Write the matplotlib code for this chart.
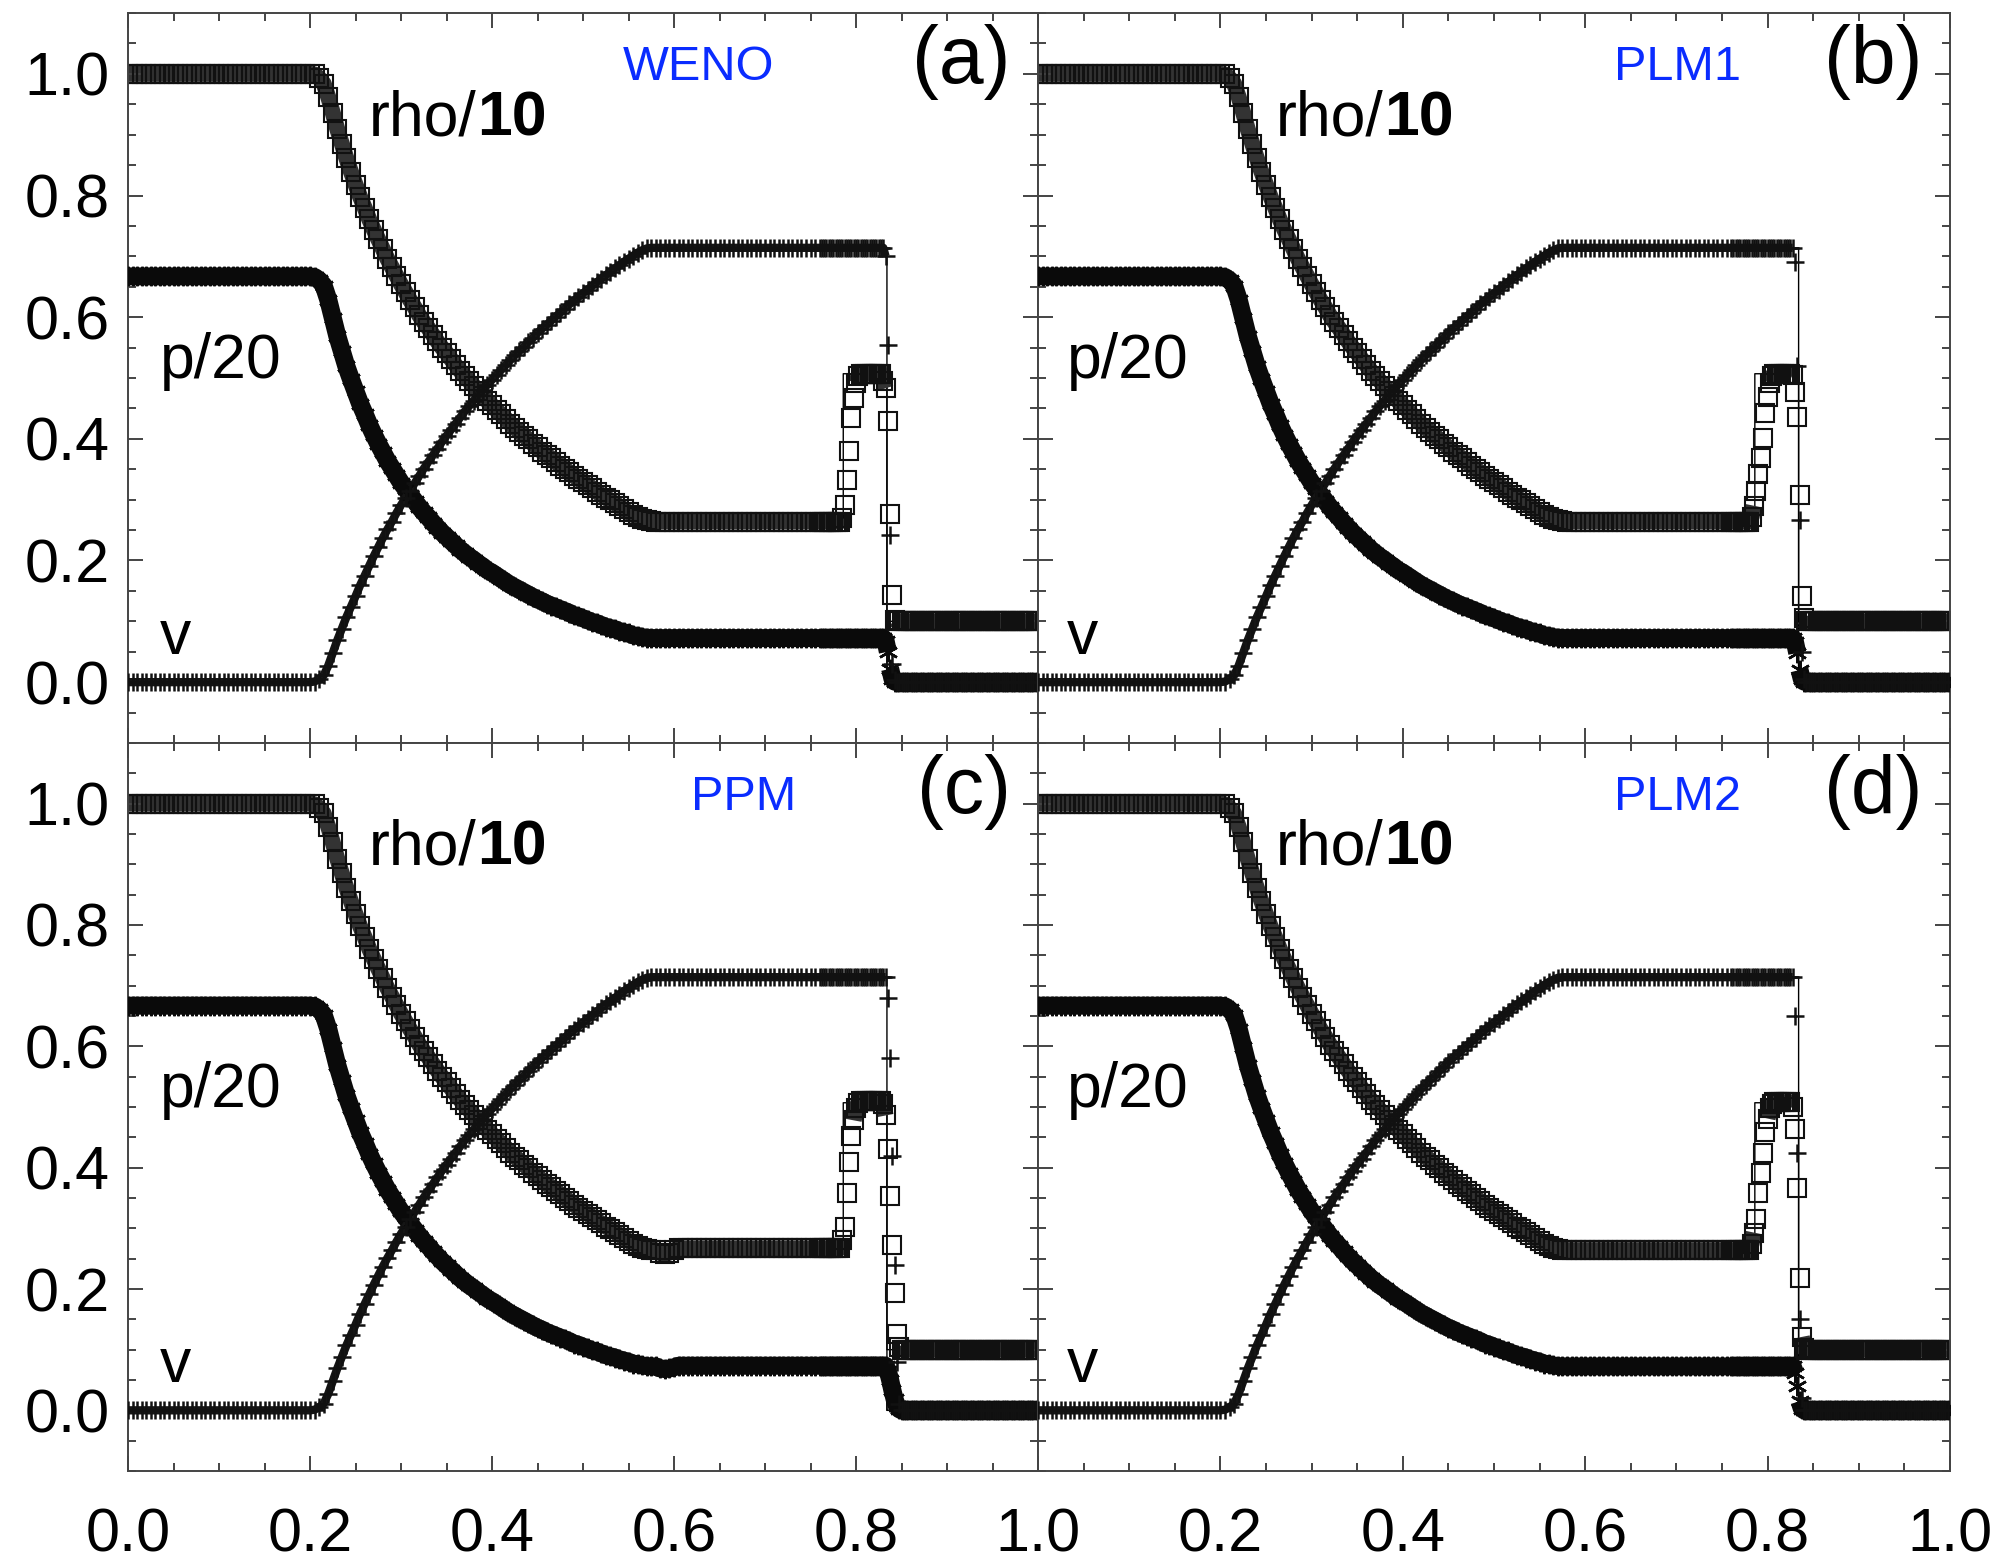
import numpy as np
import matplotlib
matplotlib.use("Agg")
import matplotlib.pyplot as plt
from matplotlib.ticker import MultipleLocator, FuncFormatter

plt.rcParams['font.family'] = ['Liberation Sans', 'DejaVu Sans']

# ---------------- data ----------------
# coarse grid (0.000 ... 0.755, step 0.005) and fine grid near the shell (0.760 ... 0.9975, step 0.0025)
x_smooth = np.round(np.arange(152) * 0.005, 4)
x_shell = np.round(0.76 + np.arange(96) * 0.0025, 5)

# left state (x < 0.2)
rho_left = [1.0] * 40
p_left = [0.667] * 40
v_left = [0.0] * 40

# rarefaction fan, x = 0.200 ... 0.580
rho_fan = [1.000, 0.999, 0.993, 0.984, 0.962, 0.936, 0.909, 0.885, 0.861, 0.839,
           0.818, 0.798, 0.780, 0.761, 0.744, 0.728, 0.712, 0.696, 0.682, 0.668,
           0.654, 0.641, 0.628, 0.616, 0.603, 0.592, 0.582, 0.571, 0.560, 0.550,
           0.541, 0.531, 0.521, 0.512, 0.503, 0.495, 0.487, 0.478, 0.470, 0.462,
           0.455, 0.447, 0.440, 0.433, 0.425, 0.418, 0.412, 0.405, 0.399, 0.392,
           0.386, 0.379, 0.373, 0.368, 0.362, 0.356, 0.350, 0.345, 0.339, 0.334,
           0.329, 0.324, 0.319, 0.313, 0.308, 0.303, 0.299, 0.294, 0.289, 0.284,
           0.279, 0.275, 0.271, 0.268, 0.266, 0.265, 0.264]
p_fan = [0.667, 0.666, 0.661, 0.652, 0.629, 0.599, 0.569, 0.544, 0.519, 0.498,
         0.478, 0.458, 0.441, 0.423, 0.407, 0.392, 0.378, 0.364, 0.352, 0.340,
         0.328, 0.318, 0.308, 0.298, 0.288, 0.279, 0.271, 0.262, 0.254, 0.246,
         0.239, 0.232, 0.225, 0.218, 0.212, 0.206, 0.201, 0.195, 0.190, 0.184,
         0.180, 0.175, 0.170, 0.165, 0.160, 0.156, 0.152, 0.148, 0.144, 0.140,
         0.136, 0.133, 0.129, 0.126, 0.123, 0.120, 0.117, 0.114, 0.110, 0.108,
         0.105, 0.102, 0.099, 0.097, 0.094, 0.091, 0.089, 0.087, 0.084, 0.082,
         0.080, 0.077, 0.076, 0.074, 0.073, 0.0725, 0.0724]
v_fan = [0.000, 0.001, 0.005, 0.011, 0.027, 0.048, 0.069, 0.088, 0.107, 0.124,
         0.141, 0.159, 0.175, 0.191, 0.207, 0.222, 0.237, 0.251, 0.264, 0.278,
         0.291, 0.303, 0.315, 0.327, 0.339, 0.351, 0.362, 0.373, 0.384, 0.395,
         0.405, 0.415, 0.425, 0.435, 0.445, 0.454, 0.463, 0.472, 0.481, 0.489,
         0.497, 0.505, 0.513, 0.521, 0.529, 0.537, 0.544, 0.551, 0.559, 0.566,
         0.574, 0.581, 0.587, 0.594, 0.601, 0.607, 0.614, 0.621, 0.627, 0.633,
         0.639, 0.645, 0.651, 0.657, 0.663, 0.669, 0.674, 0.680, 0.685, 0.691,
         0.696, 0.701, 0.706, 0.710, 0.713, 0.714, 0.714]

# plateau between fan tail and contact, x = 0.585 ... 0.755
rho_plat = [0.264] * 35
p_plat = [0.0724] * 35
v_plat = [0.714] * 35
rho_plat_ppm = [0.259, 0.257, 0.260, 0.264] + [0.267] * 31
p_plat_ppm = [0.069, 0.068, 0.069, 0.071] + [0.0735] * 31

# shell region per scheme (x = 0.760 ... 0.9975)
rho_shell_weno = [0.264] * 10 + [0.270, 0.292, 0.333, 0.380, 0.434, 0.467, 0.492, 0.503] + [0.507] * 10 \
    + [0.495, 0.483, 0.430, 0.277, 0.143, 0.103] + [0.100] * 62
p_shell_weno = [0.0724] * 29 + [0.068, 0.050, 0.022, 0.006, 0.001] + [0.0] * 62
v_shell_weno = [0.714] * 29 + [0.700, 0.555, 0.242, 0.030, 0.003] + [0.0] * 62

rho_shell_plm1 = [0.264] * 9 + [0.272, 0.290, 0.314, 0.342, 0.369, 0.402, 0.442, 0.468, 0.492, 0.503] \
    + [0.507] * 8 + [0.505, 0.477, 0.436, 0.308, 0.142, 0.105] + [0.100] * 63
p_shell_plm1 = [0.0724] * 28 + [0.066, 0.048, 0.020, 0.005, 0.001] + [0.0] * 63
v_shell_plm1 = [0.714] * 28 + [0.690, 0.520, 0.267, 0.050, 0.005] + [0.0] * 63

rho_shell_ppm = [0.267] * 10 + [0.280, 0.303, 0.359, 0.409, 0.453, 0.478, 0.498, 0.507] + [0.510] * 10 \
    + [0.505, 0.486, 0.431, 0.353, 0.273, 0.193, 0.126, 0.105] + [0.100] * 60
p_shell_ppm = [0.0735] * 30 + [0.065, 0.050, 0.033, 0.018, 0.007, 0.002] + [0.0] * 60
v_shell_ppm = [0.714] * 30 + [0.680, 0.580, 0.420, 0.240, 0.080, 0.010] + [0.0] * 60

rho_shell_plm2 = [0.264] * 9 + [0.275, 0.293, 0.315, 0.359, 0.392, 0.425, 0.459, 0.481, 0.498, 0.505] \
    + [0.508] * 8 + [0.500, 0.464, 0.367, 0.218, 0.121, 0.102] + [0.100] * 63
p_shell_plm2 = [0.0724] * 28 + [0.062, 0.040, 0.015, 0.003, 0.000] + [0.0] * 63
v_shell_plm2 = [0.714] * 28 + [0.650, 0.425, 0.150, 0.020, 0.000] + [0.0] * 63

# exact solution (thin line)
ex_fan_x = [0.2136, 0.2301, 0.2415, 0.2542, 0.2683, 0.2839, 0.3015, 0.3209, 0.3425,
            0.3664, 0.3931, 0.4223, 0.4543, 0.4890, 0.5264, 0.5461, 0.5668]
ex_fan_rho = [1.000, 0.908, 0.854, 0.801, 0.749, 0.699, 0.650, 0.601, 0.555,
              0.509, 0.465, 0.422, 0.380, 0.340, 0.302, 0.283, 0.264]
ex_fan_p = [0.667, 0.568, 0.512, 0.461, 0.412, 0.367, 0.325, 0.286, 0.250,
            0.216, 0.186, 0.158, 0.133, 0.111, 0.0906, 0.0814, 0.0724]
ex_fan_v = [0.000, 0.069, 0.112, 0.156, 0.2015, 0.248, 0.295, 0.342, 0.390,
            0.438, 0.486, 0.533, 0.580, 0.626, 0.6705, 0.692, 0.714]
x_contact = 0.786
x_shock = 0.834
ex_x = [0.0] + ex_fan_x + [x_contact, x_contact, x_shock, x_shock, 1.0]
ex_rho = [1.0] + ex_fan_rho + [0.264, 0.507, 0.507, 0.100, 0.100]
ex_p = [0.667] + ex_fan_p + [0.0724, 0.0724, 0.0724, 0.0, 0.0]
ex_v = [0.0] + ex_fan_v + [0.714, 0.714, 0.714, 0.0, 0.0]

schemes = ["WENO", "PLM1", "PPM", "PLM2"]
panel_letters = ["(a)", "(b)", "(c)", "(d)"]
plat_rho = [rho_plat, rho_plat, rho_plat_ppm, rho_plat]
plat_p = [p_plat, p_plat, p_plat_ppm, p_plat]
shell_rho = [rho_shell_weno, rho_shell_plm1, rho_shell_ppm, rho_shell_plm2]
shell_p = [p_shell_weno, p_shell_plm1, p_shell_ppm, p_shell_plm2]
shell_v = [v_shell_weno, v_shell_plm1, v_shell_ppm, v_shell_plm2]

# ---------------- figure ----------------
fig = plt.figure(figsize=(20.09, 15.66), dpi=100)
L, M, R = 128 / 2009, 1038 / 2009, 1950 / 2009
T, Mid, B = 1 - 13 / 1566, 1 - 743 / 1566, 1 - 1471 / 1566
rects = [[L, Mid, M - L, T - Mid], [M, Mid, R - M, T - Mid],
         [L, B, M - L, Mid - B], [M, B, R - M, Mid - B]]

spine_col = '#444444'
asterisk = (6, 2, 0)


def fmt(val, pos):
    if abs(val) < 1e-9:
        return "0.0"
    return "%.1f" % val


def fmt_noz(val, pos):
    if abs(val) < 1e-9:
        return ""
    return "%.1f" % val


def band(ax, x, y, **kw):
    """Thick body through the densely packed points; broken at steep jumps."""
    x = np.asarray(x, float)
    y = np.asarray(y, float)
    slope = np.abs(np.diff(y) / np.diff(x))
    xx, yy = [x[0]], [y[0]]
    for k in range(1, len(x)):
        if slope[k - 1] > 8:
            xx.append(np.nan)
            yy.append(np.nan)
        xx.append(x[k])
        yy.append(y[k])
    ax.plot(xx, yy, solid_capstyle='butt', solid_joinstyle='round', **kw)


for i in range(4):
    ax = fig.add_axes(rects[i])
    ax.set_xlim(0.0, 1.0)
    ax.set_ylim(-0.1, 1.1)

    xs = np.concatenate([x_smooth, x_shell])
    rho = np.array(rho_left + rho_fan + plat_rho[i] + shell_rho[i])
    p = np.array(p_left + p_fan + plat_p[i] + shell_p[i])
    v = np.array(v_left + v_fan + v_plat + shell_v[i])

    # exact solution thin lines
    for ey in (ex_rho, ex_p, ex_v):
        ax.plot(ex_x, ey, color='black', lw=1.0, zorder=1)

    band(ax, xs, rho, color='#333333', lw=11.5, zorder=1.5)
    band(ax, xs, p, color='#0a0a0a', lw=13, zorder=1.6)
    band(ax, xs, v, color='#151515', lw=6, zorder=1.7)

    ax.plot(xs, rho, linestyle='none', marker='s', ms=12.5, mfc='none',
            mec='#111111', mew=1.5, zorder=2)
    ax.plot(xs, p, linestyle='none', marker=asterisk, ms=14, mfc='none',
            mec='#0a0a0a', mew=1.8, zorder=3)
    ax.plot(xs, v, linestyle='none', marker='+', ms=13, mec='#111111',
            mew=1.8, zorder=4)

    ax.xaxis.set_major_locator(MultipleLocator(0.2))
    ax.xaxis.set_minor_locator(MultipleLocator(0.05))
    ax.yaxis.set_major_locator(MultipleLocator(0.2))
    ax.yaxis.set_minor_locator(MultipleLocator(0.05))
    ax.tick_params(which='both', direction='in', top=True, right=True,
                   color=spine_col, width=1.4)
    ax.tick_params(which='major', length=11)
    ax.tick_params(which='minor', length=5.5)
    ax.tick_params(axis='x', labelsize=44, pad=26)
    ax.tick_params(axis='y', labelsize=44, pad=13)
    for s in ax.spines.values():
        s.set_linewidth(1.4)
        s.set_color(spine_col)

    col = i % 2
    row = i // 2
    if col == 1:
        ax.tick_params(labelleft=False)
    else:
        ax.yaxis.set_major_formatter(FuncFormatter(fmt))
    if row == 0:
        ax.tick_params(labelbottom=False)
    else:
        ax.xaxis.set_major_formatter(FuncFormatter(fmt if col == 0 else fmt_noz))

    # labels
    xl = 0.265 if col == 0 else 0.261
    xs_lab = 0.035 if col == 0 else 0.032
    t = ax.text(xl, 0.899, "rho/", fontsize=45, va='baseline', ha='left', zorder=6)
    ax.annotate("10", xy=(1, 0), xycoords=t, fontsize=45, fontweight='bold',
                va='bottom', ha='left', zorder=6)
    ax.text(xs_lab, 0.50, "p/20", fontsize=45, va='baseline', ha='left', zorder=6)
    ax.text(xs_lab, 0.047, "v", fontsize=45, va='baseline', ha='left', zorder=6)

    sx = [0.627, 0.701, 0.676, 0.701][i]
    ax.text(sx, 0.99, schemes[i], fontsize=35, color='#0a2cff',
            va='baseline', ha='center', zorder=6)
    ax.text(0.970, 0.985, panel_letters[i], fontsize=58, va='baseline', ha='right',
            zorder=6)

fig.savefig("out.png", dpi=100)
